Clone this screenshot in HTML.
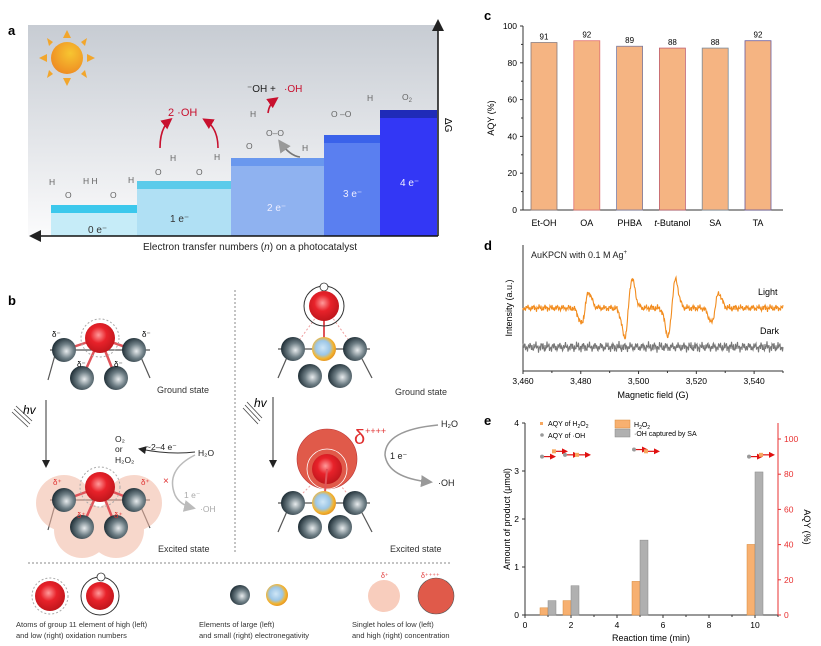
<!DOCTYPE html>
<html><head><meta charset="utf-8">
<style>
body{margin:0;background:#fff;}
svg{display:block;font-family:"Liberation Sans",sans-serif;}
</style></head>
<body>
<svg id="fig" width="821" height="646" viewBox="0 0 821 646" xmlns="http://www.w3.org/2000/svg">
<defs>
<linearGradient id="bgA" x1="0" y1="0" x2="0" y2="1"><stop offset="0" stop-color="#c7ccd3"/><stop offset="1" stop-color="#fbfbfc"/></linearGradient>
<radialGradient id="sunG" cx="0.6" cy="0.35" r="0.7"><stop offset="0" stop-color="#f7c531"/><stop offset="1" stop-color="#ee8a22"/></radialGradient>
<radialGradient id="redG" cx="0.45" cy="0.4" r="0.6"><stop offset="0" stop-color="#ff9a9a"/><stop offset="0.45" stop-color="#e8222a"/><stop offset="1" stop-color="#c0161c"/></radialGradient>
<radialGradient id="darkG" cx="0.6" cy="0.55" r="0.6"><stop offset="0" stop-color="#e8ecee"/><stop offset="0.5" stop-color="#6f7f86"/><stop offset="1" stop-color="#1f2e36"/></radialGradient>
<radialGradient id="goldG" cx="0.45" cy="0.45" r="0.6"><stop offset="0" stop-color="#cfe6f6"/><stop offset="0.5" stop-color="#9cc6e6"/><stop offset="0.75" stop-color="#f2b532"/><stop offset="1" stop-color="#e08a1c"/></radialGradient>
<marker id="arrK" markerWidth="8" markerHeight="8" refX="6" refY="4" orient="auto"><path d="M0,0 L8,4 L0,8 z" fill="#222"/></marker>
<marker id="arrR" markerWidth="7" markerHeight="7" refX="5" refY="3.5" orient="auto"><path d="M0,0 L7,3.5 L0,7 z" fill="#c8102e"/></marker>
<marker id="arrS" markerUnits="userSpaceOnUse" markerWidth="6" markerHeight="6" refX="4" refY="3" orient="auto"><path d="M0,0 L6,3 L0,6 z" fill="#e01010"/></marker>
<marker id="arrG" markerWidth="8" markerHeight="8" refX="6" refY="4" orient="auto"><path d="M0,0 L8,4 L0,8 z" fill="#999"/></marker>
<marker id="arrL" markerWidth="8" markerHeight="8" refX="6" refY="4" orient="auto"><path d="M0,0 L8,4 L0,8 z" fill="#bbb"/></marker>
</defs>

<!-- ===== Panel a ===== -->
<g>
<text x="8" y="35" font-size="13" font-weight="bold">a</text>
<rect x="28" y="25" width="410" height="211" fill="url(#bgA)"/>
<g>
<g fill="#f2a62c">
<polygon points="67,30 63,38 71,38"/><polygon points="67,86 63,78 71,78"/><polygon points="39,58 47,54 47,62"/><polygon points="95,58 87,54 87,62"/>
<polygon points="47,38 53,42 49,46"/><polygon points="87,38 81,42 85,46"/><polygon points="47,78 53,74 49,70"/><polygon points="87,78 81,74 85,70"/>
</g>
<circle cx="67" cy="58" r="16" fill="url(#sunG)"/>
</g>
<g>
<rect x="51" y="205" width="86" height="31" fill="#c6ecf8"/><rect x="51" y="205" width="86" height="8" fill="#3cc8ec"/>
<rect x="137" y="181" width="94" height="55" fill="#b0e0f4"/><rect x="137" y="181" width="94" height="8" fill="#5ccbea"/>
<rect x="231" y="158" width="93" height="78" fill="#8fb2f0"/><rect x="231" y="158" width="93" height="8" fill="#6a98ee"/>
<rect x="324" y="135" width="56" height="101" fill="#5a7ff0"/><rect x="324" y="135" width="56" height="8" fill="#3a62ea"/>
<rect x="380" y="110" width="57" height="126" fill="#3337f5"/><rect x="380" y="110" width="57" height="8" fill="#1f2bb8"/>
</g>
<g font-size="10" fill="#555">
<text x="88" y="233" fill="#333">0 e⁻</text>
<text x="170" y="222" fill="#333">1 e⁻</text>
<text x="267" y="211" fill="#eef">2 e⁻</text>
<text x="343" y="197" fill="#eef">3 e⁻</text>
<text x="400" y="186" fill="#eef">4 e⁻</text>
</g>
<g font-size="8.5" fill="#666">
<text x="49" y="185">H</text><text x="65" y="198">O</text><text x="83" y="184">H H</text><text x="110" y="198">O</text><text x="128" y="183">H</text>
<text x="155" y="175">O</text><text x="170" y="161">H</text><text x="196" y="175">O</text><text x="214" y="160">H</text>
<text x="246" y="149">O</text><text x="250" y="117">H</text><text x="266" y="136">O–O</text><text x="302" y="151">H</text>
<text x="331" y="117">O –O</text><text x="367" y="101">H</text><text x="402" y="100">O<tspan font-size="6" dy="2">2</tspan></text>
</g>
<text x="168" y="116" font-size="11" fill="#c8102e">2 ·OH</text>
<path d="M160,148 Q160,128 170,120" fill="none" stroke="#c8102e" stroke-width="1.6" marker-end="url(#arrR)"/>
<path d="M218,148 Q218,128 205,120" fill="none" stroke="#c8102e" stroke-width="1.6" marker-end="url(#arrR)"/>
<text x="247" y="92" font-size="10" fill="#222">⁻OH +</text>
<text x="284" y="92" font-size="10" fill="#c8102e">·OH</text>
<path d="M268,113 Q269,104 276,99" fill="none" stroke="#c8102e" stroke-width="1.6" marker-end="url(#arrR)"/>
<path d="M300,157 Q290,156 280,142" fill="none" stroke="#777" stroke-width="1.6" marker-end="url(#arrG)"/>
<line x1="438" y1="236" x2="438" y2="22" stroke="#111" stroke-width="1.5" marker-end="url(#arrK)"/>
<line x1="438" y1="236" x2="32" y2="236" stroke="#111" stroke-width="1.5" marker-end="url(#arrK)"/>
<text x="0" y="0" font-size="10" transform="translate(445,118) rotate(90)">ΔG</text>
<text x="250" y="250" font-size="10" text-anchor="middle" fill="#222">Electron transfer numbers (<tspan font-style="italic">n</tspan>) on a photocatalyst</text>
</g>

<!-- ===== Panel b ===== -->
<g>
<text x="8" y="305" font-size="13" font-weight="bold">b</text>
<g stroke="#555" stroke-width="1.2">
<line x1="50" y1="350" x2="150" y2="350"/><line x1="55" y1="355" x2="48" y2="380"/><line x1="140" y1="355" x2="150" y2="378"/>
<line x1="50" y1="500" x2="150" y2="500"/><line x1="55" y1="505" x2="48" y2="530"/><line x1="140" y1="505" x2="150" y2="528"/>
<line x1="278" y1="349" x2="370" y2="349"/><line x1="288" y1="355" x2="278" y2="378"/><line x1="360" y1="355" x2="372" y2="378"/>
<line x1="278" y1="503" x2="370" y2="503"/><line x1="288" y1="509" x2="278" y2="532"/><line x1="360" y1="509" x2="372" y2="532"/>
</g>
<g stroke="#e0545a" stroke-width="2.5"><line x1="100" y1="338" x2="64" y2="350"/><line x1="100" y1="338" x2="134" y2="350"/><line x1="100" y1="338" x2="82" y2="378"/><line x1="100" y1="338" x2="116" y2="378"/></g>
<circle cx="100" cy="338" r="19" fill="none" stroke="#aaa" stroke-dasharray="2,2"/>
<circle cx="100" cy="338" r="15" fill="url(#redG)"/>
<circle cx="64" cy="350" r="12" fill="url(#darkG)"/><circle cx="134" cy="350" r="12" fill="url(#darkG)"/>
<circle cx="82" cy="378" r="12" fill="url(#darkG)"/><circle cx="116" cy="378" r="12" fill="url(#darkG)"/>
<g font-size="8"><text x="52" y="337">δ⁻</text><text x="142" y="337">δ⁻</text><text x="77" y="367">δ⁻</text><text x="114" y="367">δ⁻</text></g>
<text x="157" y="393" font-size="9" fill="#333">Ground state</text>
<text x="23" y="414" font-size="12" font-style="italic">hv</text>
<g stroke="#444" stroke-width="0.8"><line x1="12" y1="412" x2="28" y2="427"/><line x1="14" y1="409" x2="30" y2="424"/><line x1="16" y1="406" x2="32" y2="421"/></g>
<line x1="46" y1="400" x2="46" y2="466" stroke="#333" marker-end="url(#arrK)"/>
<g fill="#f2b7a2" opacity="0.55"><circle cx="64" cy="503" r="28"/><circle cx="134" cy="503" r="28"/><circle cx="82" cy="530" r="28"/><circle cx="116" cy="530" r="28"/></g>
<g stroke="#e0545a" stroke-width="2.5"><line x1="100" y1="487" x2="64" y2="500"/><line x1="100" y1="487" x2="134" y2="500"/><line x1="100" y1="487" x2="82" y2="527"/><line x1="100" y1="487" x2="116" y2="527"/></g>
<circle cx="100" cy="487" r="20" fill="none" stroke="#aaa" stroke-dasharray="2,2"/>
<circle cx="100" cy="487" r="15" fill="url(#redG)"/>
<circle cx="64" cy="500" r="12" fill="url(#darkG)"/><circle cx="134" cy="500" r="12" fill="url(#darkG)"/>
<circle cx="82" cy="527" r="12" fill="url(#darkG)"/><circle cx="116" cy="527" r="12" fill="url(#darkG)"/>
<g font-size="8" fill="#e03030"><text x="53" y="485">δ⁺</text><text x="141" y="485">δ⁺</text><text x="77" y="518">δ⁺</text><text x="114" y="518">δ⁺</text></g>
<g font-size="8.5" fill="#222"><text x="115" y="442">O₂</text><text x="115" y="452">or</text><text x="115" y="463">H₂O₂</text><text x="146" y="450">~2–4 e⁻</text><text x="198" y="456">H₂O</text></g>
<path d="M195,452 Q170,455 140,449" fill="none" stroke="#333" marker-end="url(#arrK)"/>
<path d="M195,455 Q165,470 175,495 Q180,505 193,508" fill="none" stroke="#bbb" stroke-width="1.5" marker-end="url(#arrL)"/>
<text x="163" y="484" font-size="10" fill="#e03030">×</text>
<text x="184" y="498" font-size="8.5" fill="#aaa">1 e⁻</text><text x="200" y="512" font-size="8.5" fill="#aaa">·OH</text>
<text x="158" y="552" font-size="9" fill="#333">Excited state</text>
<line x1="235" y1="290" x2="235" y2="553" stroke="#888" stroke-dasharray="2,2"/>
<g stroke="#f0a0a0" stroke-dasharray="2,2"><line x1="324" y1="306" x2="293" y2="349"/><line x1="324" y1="306" x2="355" y2="349"/></g>
<line x1="324" y1="306" x2="324" y2="349" stroke="#e0545a" stroke-width="2"/>
<circle cx="324" cy="306" r="20" fill="none" stroke="#333"/>
<circle cx="324" cy="287" r="4" fill="#fff" stroke="#333" stroke-width="0.8"/>
<circle cx="324" cy="306" r="15" fill="url(#redG)"/>
<circle cx="293" cy="349" r="12" fill="url(#darkG)"/><circle cx="324" cy="349" r="12" fill="url(#goldG)"/><circle cx="355" cy="349" r="12" fill="url(#darkG)"/>
<circle cx="310" cy="376" r="12" fill="url(#darkG)"/><circle cx="340" cy="376" r="12" fill="url(#darkG)"/>
<text x="395" y="395" font-size="9" fill="#333">Ground state</text>
<text x="254" y="407" font-size="12" font-style="italic">hv</text>
<g stroke="#444" stroke-width="0.8"><line x1="243" y1="408" x2="258" y2="424"/><line x1="245" y1="405" x2="260" y2="421"/><line x1="247" y1="402" x2="262" y2="418"/></g>
<line x1="273" y1="397" x2="273" y2="466" stroke="#333" marker-end="url(#arrK)"/>
<g stroke="#f0a0a0" stroke-dasharray="2,2"><line x1="327" y1="469" x2="293" y2="503"/><line x1="327" y1="469" x2="355" y2="503"/></g>
<circle cx="327" cy="459" r="30" fill="#e05a4a" stroke="#b33" stroke-width="0.6"/>
<circle cx="327" cy="469" r="20" fill="none" stroke="#fff" stroke-width="0.8"/>
<circle cx="327" cy="469" r="15" fill="url(#redG)"/>
<line x1="327" y1="469" x2="324" y2="503" stroke="#e0545a" stroke-width="2"/>
<circle cx="293" cy="503" r="12" fill="url(#darkG)"/><circle cx="324" cy="503" r="12" fill="url(#goldG)"/><circle cx="355" cy="503" r="12" fill="url(#darkG)"/>
<circle cx="310" cy="527" r="12" fill="url(#darkG)"/><circle cx="340" cy="527" r="12" fill="url(#darkG)"/>
<text x="354" y="444" font-size="20" fill="#e03030">δ<tspan font-size="9" dy="-10">++++</tspan></text>
<text x="441" y="427" font-size="9" fill="#222">H₂O</text>
<text x="390" y="459" font-size="9" fill="#222">1 e⁻</text>
<text x="438" y="486" font-size="9" fill="#222">·OH</text>
<path d="M438,425 Q385,430 385,455 Q388,478 430,482" fill="none" stroke="#999" stroke-width="1.5" marker-end="url(#arrG)"/>
<text x="390" y="552" font-size="9" fill="#333">Excited state</text>
<line x1="28" y1="563" x2="452" y2="563" stroke="#888" stroke-dasharray="2,2"/>
<g>
<circle cx="50" cy="596" r="18" fill="none" stroke="#aaa" stroke-dasharray="2,2"/><circle cx="50" cy="596" r="15" fill="url(#redG)"/>
<circle cx="100" cy="596" r="19" fill="none" stroke="#333"/><circle cx="100" cy="596" r="14" fill="url(#redG)"/><circle cx="101" cy="577" r="4" fill="#fff" stroke="#333" stroke-width="0.8"/>
<circle cx="240" cy="595" r="10" fill="url(#darkG)"/><circle cx="277" cy="595" r="11" fill="url(#goldG)"/>
<circle cx="384" cy="596" r="16" fill="#f8cdbd"/><circle cx="436" cy="596" r="18" fill="#e05a4a" stroke="#555" stroke-width="0.6"/>
<text x="381" y="578" font-size="7" fill="#e03030">δ⁺</text><text x="421" y="578" font-size="7" fill="#e03030">δ⁺⁺⁺⁺</text>
<g font-size="7.5" fill="#333">
<text x="16" y="627">Atoms of group 11 element of high (left)</text><text x="16" y="638">and low (right) oxidation numbers</text>
<text x="199" y="627">Elements of large (left)</text><text x="199" y="638">and small (right) electronegativity</text>
<text x="352" y="627">Singlet holes of low (left)</text><text x="352" y="638">and high (right) concentration</text>
</g>
</g>
</g>

<!-- ===== Panel c ===== -->
<g id="panelC">
<text x="484" y="20" font-size="13" font-weight="bold">c</text>
<text x="0" y="0" font-size="9" text-anchor="middle" transform="translate(494,118) rotate(-90)">AQY (%)</text>
</g>
<!-- ===== Panel d ===== -->
<g id="panelD">
<text x="484" y="250" font-size="13" font-weight="bold">d</text>
<text x="531" y="258" font-size="9" fill="#222">AuKPCN with 0.1 M Ag<tspan font-size="6" dy="-4">+</tspan></text>
<text x="758" y="295" font-size="9">Light</text>
<text x="760" y="334" font-size="9">Dark</text>
<text x="0" y="0" font-size="9" text-anchor="middle" transform="translate(512,308) rotate(-90)">Intensity (a.u.)</text>
<text x="653" y="398" font-size="9" text-anchor="middle">Magnetic field (G)</text>
</g>
<!-- ===== Panel e ===== -->
<g id="panelE">
<text x="484" y="425" font-size="13" font-weight="bold">e</text>
<text x="0" y="0" font-size="9" text-anchor="middle" transform="translate(510,519) rotate(-90)">Amount of product (μmol)</text>
<text x="0" y="0" font-size="9" text-anchor="middle" transform="translate(804,527) rotate(90)">AQY (%)</text>
<text x="651" y="641" font-size="9" text-anchor="middle">Reaction time (min)</text>
<g>
<rect x="540" y="422" width="3" height="3" fill="#f7a860"/><text x="548" y="426" font-size="7">AQY of H<tspan font-size="5" dy="2">2</tspan><tspan dy="-2">O</tspan><tspan font-size="5" dy="2">2</tspan></text>
<circle cx="542" cy="435" r="1.8" fill="#999"/><text x="548" y="438" font-size="7">AQY of ·OH</text>
<rect x="615" y="420" width="15" height="8" fill="#f7b070" stroke="#d88a3a" stroke-width="0.5"/><text x="634" y="427" font-size="7">H<tspan font-size="5" dy="2">2</tspan><tspan dy="-2">O</tspan><tspan font-size="5" dy="2">2</tspan></text>
<rect x="615" y="429" width="15" height="8" fill="#b0b0b0" stroke="#888" stroke-width="0.5"/><text x="634" y="436" font-size="7">·OH captured by SA</text>
</g>
</g>

<script>
var NS='http://www.w3.org/2000/svg';
function mk(tag,attrs,parent){var e=document.createElementNS(NS,tag);for(var k in attrs)e.setAttribute(k,attrs[k]);parent.appendChild(e);return e;}

/* ---- Panel c data ---- */
var cCategories=['Et-OH','OA','PHBA','t-Butanol','SA','TA'];
var cValues=[91,92,89,88,88,92];
var cTicks=[0,20,40,60,80,100];
/* ---- Panel d data ---- */
var dTicks=[3460,3480,3500,3520,3540];
var dPeakCenters=[3481.5,3496.5,3511.5,3526.5];
var dPeakAmps=[16,30,29,15];
/* ---- Panel e data ---- */
var eTimes=[1,2,5,10];
var eH2O2=[0.15,0.3,0.7,1.47];
var eOH=[0.3,0.61,1.56,2.98];
var eAqyH2O2=[93,91,93,91];
var eAqyOH=[90,91,94,90];
var eXTicks=[0,2,4,6,8,10];
var eYTicks=[0,1,2,3,4];
var eY2Ticks=[0,20,40,60,80,100];

(function(){
 var g=document.getElementById('panelC');
 var x0=523,x1=783,yb=210,yt=26;
 function y(v){return yb-(v-0)/100*(yb-yt);}
 function xc(i){return 544+i*42.8;}
 var ax=mk('line',{x1:x0,y1:yt,x2:x0,y2:yb,stroke:'#333'},g);
 
 var bx=mk('line',{x1:x0,y1:yb,x2:x1,y2:yb,stroke:'#333'},g);
 
 cTicks.forEach(function(t){
  mk('line',{x1:x0-3,y1:y(t),x2:x0,y2:y(t),stroke:'#333'},g);
  if(t<100)mk('line',{x1:x0-2,y1:y(t+10),x2:x0,y2:y(t+10),stroke:'#333'},g);
  var tl=mk('text',{x:x0-6,y:y(t)+3,'font-size':8.5,'text-anchor':'end'},g);tl.textContent=t;
  
 });
 var edges=['#8a7a7a','#e07070','#7a7aa0','#c06070','#7a8a9a','#6a5a9a'];
 cCategories.forEach(function(c,i){
  var r=mk('rect',{x:xc(i)-13,y:y(cValues[i]),width:26,height:yb-y(cValues[i]),fill:'#f5b482',stroke:edges[i],'stroke-width':0.8},g);
  
  var vl=mk('text',{x:xc(i),y:y(cValues[i])-3,'font-size':8,'text-anchor':'middle'},g);vl.textContent=cValues[i];
  
  var cl=mk('text',{x:xc(i),y:226,'font-size':9,'text-anchor':'middle'},g);
  if(c.indexOf('t-')===0){
   var t1=mk('tspan',{'font-style':'italic'},cl);t1.textContent='t';
   var t2=mk('tspan',{},cl);t2.textContent=c.slice(1);
  }else cl.textContent=c;
  
 });
})();

(function(){
 var g=document.getElementById('panelD');
 var x0=523,x1=783,yb=371,yt=245;
 function x(v){return x0+(v-3460)/90*(x1-x0);}
 var a=mk('line',{x1:x0,y1:yt,x2:x0,y2:yb,stroke:'#333'},g);
 
 var b=mk('line',{x1:x0,y1:yb,x2:x1,y2:yb,stroke:'#333'},g);
 
 dTicks.forEach(function(t){
  mk('line',{x1:x(t),y1:yb,x2:x(t),y2:yb+3,stroke:'#333'},g);
  mk('line',{x1:x(t+10),y1:yb,x2:x(t+10),y2:yb+2,stroke:'#333'},g);
  var tl=mk('text',{x:x(t),y:yb+13,'font-size':8.5,'text-anchor':'middle'},g);tl.textContent=t.toLocaleString('en-US');
  
 });
 function tex(i,s){return Math.sin(i*1.7+s)*1.6+Math.sin(i*0.53+s*2)*1.3+Math.sin(i*3.1)*1.1;}
 var pl='',pd='';
 for(var i=0;i<=520;i++){
  var v=3460+i*90/520, xx=x(v);
  var s=0;
  dPeakCenters.forEach(function(c,k){var d=(v-c)/1.3;s+=-dPeakAmps[k]*d*Math.exp(-d*d/2)*1.6;});
  pl+=(i?'L':'M')+xx.toFixed(1)+','+(308+s+tex(i,0)).toFixed(1);
  pd+=(i?'L':'M')+xx.toFixed(1)+','+(347+tex(i,5)*1.5).toFixed(1);
 }
 var l1=mk('path',{d:pl,fill:'none',stroke:'#f28c1e','stroke-width':1.1},g);
 
 var l2=mk('path',{d:pd,fill:'none',stroke:'#777','stroke-width':1.1},g);
 
})();

(function(){
 var g=document.getElementById('panelE');
 var x0=525,xr=778,yb=615,yt=423;
 function x(t){return x0+t*23;}
 function y(v){return yb-v*48;}
 function y2(v){return yb-v*1.76;}
 var a=mk('line',{x1:x0,y1:yt,x2:x0,y2:yb,stroke:'#333'},g);
 
 var b=mk('line',{x1:x0,y1:yb,x2:xr,y2:yb,stroke:'#333'},g);
 
 var c=mk('line',{x1:xr,y1:yt,x2:xr,y2:yb,stroke:'#e83030'},g);
 
 eXTicks.forEach(function(t){
  mk('line',{x1:x(t),y1:yb,x2:x(t),y2:yb+3,stroke:'#333'},g);
  mk('line',{x1:x(t+1),y1:yb,x2:x(t+1),y2:yb+2,stroke:'#333'},g);
  var tl=mk('text',{x:x(t),y:yb+13,'font-size':8.5,'text-anchor':'middle'},g);tl.textContent=t;
  
 });
 eYTicks.forEach(function(t){
  mk('line',{x1:x0-3,y1:y(t),x2:x0,y2:y(t),stroke:'#333'},g);
  var tl=mk('text',{x:x0-6,y:y(t)+3,'font-size':8.5,'text-anchor':'end'},g);tl.textContent=t;
  
 });
 eY2Ticks.forEach(function(t){
  mk('line',{x1:xr,y1:y2(t),x2:xr+3,y2:y2(t),stroke:'#e83030'},g);
  var tl=mk('text',{x:xr+6,y:y2(t)+3,'font-size':8.5,fill:'#e83030'},g);tl.textContent=t;
  
 });
 eTimes.forEach(function(t,i){
  var r1=mk('rect',{x:x(t)-8,y:y(eH2O2[i]),width:8,height:yb-y(eH2O2[i]),fill:'#f7b070',stroke:'#d88a3a','stroke-width':0.5},g);
  
  var r2=mk('rect',{x:x(t),y:y(eOH[i]),width:8,height:yb-y(eOH[i]),fill:'#b0b0b0',stroke:'#888','stroke-width':0.5},g);
  
  var xo=x(t-0.26), xh=x(t+0.26);
  var a1=mk('path',{d:'M'+(xo)+','+y2(eAqyOH[i])+' h12',stroke:'#e01010','stroke-width':1.2,'marker-end':'url(#arrS)'},g);
  
  var p1=mk('circle',{cx:xo,cy:y2(eAqyOH[i]),r:2,fill:'#999'},g);
  
  var a2=mk('path',{d:'M'+(xh)+','+y2(eAqyH2O2[i])+' h12',stroke:'#e01010','stroke-width':1.2,'marker-end':'url(#arrS)'},g);
  
  var p2=mk('rect',{x:xh-2,y:y2(eAqyH2O2[i])-2,width:4,height:4,fill:'#f7a860'},g);
  
 });
})();
</script>
</svg>
</body></html>
